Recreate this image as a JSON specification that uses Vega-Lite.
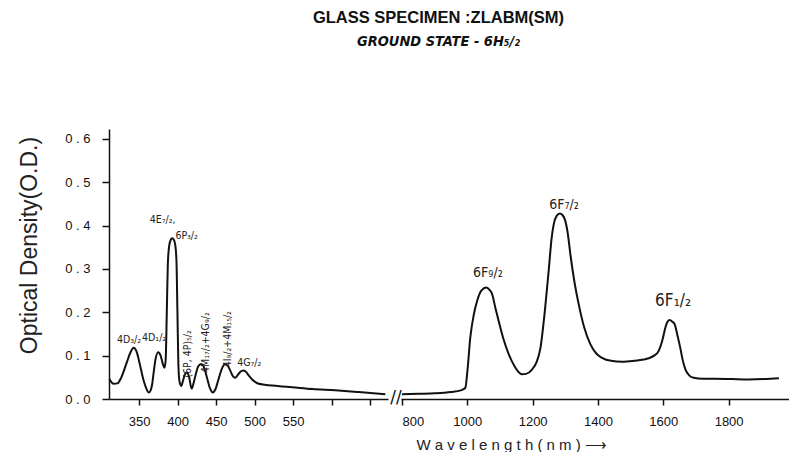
{
  "$schema": "https://vega.github.io/schema/vega-lite/v6.json",
  "background": "white",
  "padding": {"left": 17, "top": 10, "right": 0, "bottom": 0},
  "autosize": {"type": "pad"},
  "bounds": "flush",
  "spacing": 13,
  "config": {
    "view": {"stroke": null},
    "axis": {
      "grid": false,
      "domainColor": "#111",
      "domainWidth": 1.5,
      "tickColor": "#111",
      "tickWidth": 1.5,
      "labelColor": "#111",
      "labelFont": "Liberation Sans",
      "labelFontSize": 13,
      "titleColor": "#222",
      "titleFont": "Liberation Sans",
      "titleFontWeight": "normal"
    }
  },
  "title": {
    "text": "GLASS SPECIMEN :ZLABM(SM)",
    "subtitle": "GROUND STATE - 6H₅/₂",
    "anchor": "middle",
    "dx": 34,
    "offset": 81,
    "font": "Liberation Sans",
    "fontSize": 16.5,
    "fontWeight": "bold",
    "color": "#111",
    "subtitleFont": "Liberation Sans Narrow, DejaVu Sans Condensed, sans-serif",
    "subtitleFontSize": 14.5,
    "subtitleFontStyle": "italic",
    "subtitleFontWeight": "bold",
    "subtitleColor": "#111",
    "subtitlePadding": 8
  },
  "datasets": {
    "left": [
      {"nm": 311.4, "od": 0.046}, {"nm": 317, "od": 0.035}, {"nm": 322, "od": 0.036}, {"nm": 327, "od": 0.05},
      {"nm": 334, "od": 0.084}, {"nm": 339, "od": 0.108}, {"nm": 343, "od": 0.118}, {"nm": 347, "od": 0.108},
      {"nm": 351, "od": 0.08}, {"nm": 356, "od": 0.042}, {"nm": 359.5, "od": 0.024}, {"nm": 362.6, "od": 0.015},
      {"nm": 365, "od": 0.02}, {"nm": 367, "od": 0.034}, {"nm": 369, "od": 0.062}, {"nm": 371, "od": 0.088},
      {"nm": 374.7, "od": 0.108}, {"nm": 378, "od": 0.1}, {"nm": 381, "od": 0.08}, {"nm": 383, "od": 0.072},
      {"nm": 384.5, "od": 0.09}, {"nm": 386, "od": 0.2}, {"nm": 387.3, "od": 0.31}, {"nm": 389, "od": 0.352},
      {"nm": 391, "od": 0.367}, {"nm": 393, "od": 0.371}, {"nm": 395, "od": 0.368}, {"nm": 397, "od": 0.355},
      {"nm": 398.5, "od": 0.32}, {"nm": 399.8, "od": 0.2}, {"nm": 401, "od": 0.08}, {"nm": 402.5, "od": 0.04},
      {"nm": 404.8, "od": 0.03}, {"nm": 407, "od": 0.042}, {"nm": 409.5, "od": 0.057}, {"nm": 412.3, "od": 0.061},
      {"nm": 415, "od": 0.05}, {"nm": 418.2, "od": 0.024}, {"nm": 420.5, "od": 0.035}, {"nm": 424, "od": 0.06},
      {"nm": 427, "od": 0.076}, {"nm": 430.5, "od": 0.081}, {"nm": 434, "od": 0.074}, {"nm": 438, "od": 0.05},
      {"nm": 442, "od": 0.025}, {"nm": 445.5, "od": 0.015}, {"nm": 449, "od": 0.022}, {"nm": 453, "od": 0.045},
      {"nm": 457, "od": 0.068}, {"nm": 461.5, "od": 0.08}, {"nm": 465, "od": 0.077}, {"nm": 468.5, "od": 0.065},
      {"nm": 472, "od": 0.052}, {"nm": 474.7, "od": 0.049}, {"nm": 478, "od": 0.055}, {"nm": 481.5, "od": 0.063},
      {"nm": 485, "od": 0.066}, {"nm": 488, "od": 0.064}, {"nm": 492, "od": 0.055}, {"nm": 496.8, "od": 0.045},
      {"nm": 501, "od": 0.039}, {"nm": 505.5, "od": 0.035}, {"nm": 513, "od": 0.033}, {"nm": 522.7, "od": 0.031},
      {"nm": 535, "od": 0.029}, {"nm": 548.7, "od": 0.027}, {"nm": 575, "od": 0.023}, {"nm": 604.5, "od": 0.02},
      {"nm": 635, "od": 0.016}, {"nm": 669.5, "od": 0.011}
    ],
    "right": [
      {"nm": 800, "od": 0.011}, {"nm": 850, "od": 0.012}, {"nm": 900, "od": 0.013}, {"nm": 950, "od": 0.016},
      {"nm": 980, "od": 0.02}, {"nm": 994, "od": 0.026}, {"nm": 1001, "od": 0.07}, {"nm": 1009, "od": 0.141},
      {"nm": 1020, "od": 0.195}, {"nm": 1030, "od": 0.226}, {"nm": 1043, "od": 0.25}, {"nm": 1058, "od": 0.257},
      {"nm": 1068, "od": 0.252}, {"nm": 1076, "od": 0.242}, {"nm": 1086, "od": 0.21}, {"nm": 1096, "od": 0.18},
      {"nm": 1110, "od": 0.14}, {"nm": 1127, "od": 0.103}, {"nm": 1145, "od": 0.075}, {"nm": 1160, "od": 0.06},
      {"nm": 1167.5, "od": 0.057}, {"nm": 1180, "od": 0.058}, {"nm": 1198, "od": 0.068}, {"nm": 1212, "od": 0.085},
      {"nm": 1224, "od": 0.118}, {"nm": 1237, "od": 0.2}, {"nm": 1249, "od": 0.295}, {"nm": 1258, "od": 0.37},
      {"nm": 1264.5, "od": 0.403}, {"nm": 1274, "od": 0.423}, {"nm": 1283, "od": 0.428}, {"nm": 1292, "od": 0.424},
      {"nm": 1300, "od": 0.411}, {"nm": 1308, "od": 0.38}, {"nm": 1315.5, "od": 0.334}, {"nm": 1328, "od": 0.27},
      {"nm": 1341, "od": 0.219}, {"nm": 1358, "od": 0.165}, {"nm": 1377, "od": 0.126}, {"nm": 1395, "od": 0.105},
      {"nm": 1412.5, "od": 0.095}, {"nm": 1440, "od": 0.088}, {"nm": 1474, "od": 0.086}, {"nm": 1510, "od": 0.088},
      {"nm": 1540, "od": 0.091}, {"nm": 1555.5, "od": 0.094}, {"nm": 1572, "od": 0.1}, {"nm": 1586, "od": 0.111},
      {"nm": 1597, "od": 0.135}, {"nm": 1606.5, "od": 0.165}, {"nm": 1612, "od": 0.177}, {"nm": 1619, "od": 0.182},
      {"nm": 1627, "od": 0.179}, {"nm": 1635, "od": 0.172}, {"nm": 1643, "od": 0.148}, {"nm": 1652, "od": 0.118},
      {"nm": 1660, "od": 0.088}, {"nm": 1668, "od": 0.068}, {"nm": 1680, "od": 0.054}, {"nm": 1693, "od": 0.049},
      {"nm": 1720, "od": 0.047}, {"nm": 1760, "od": 0.047}, {"nm": 1810, "od": 0.046}, {"nm": 1862, "od": 0.045},
      {"nm": 1910, "od": 0.046}, {"nm": 1954, "od": 0.048}
    ],
    "leftLabels": [
      {"nm": 337, "od": 0.136, "label": "4D₃/₂"},
      {"nm": 369.5, "od": 0.14, "label": "4D₁/₂"},
      {"nm": 380.5, "od": 0.412, "label": "4E₇/₂,"},
      {"nm": 411.7, "od": 0.375, "label": "6P₃/₂"},
      {"nm": 493, "od": 0.083, "label": "4G₇/₂"}
    ],
    "leftVertical": [
      {"nm": 413, "od": 0.104, "label": "(6P, 4P)₅/₂"},
      {"nm": 437, "od": 0.13, "label": "4M₁₇/₂+4G₉/₂"},
      {"nm": 465, "od": 0.138, "label": "4I₉/₂+4M₁₅/₂"}
    ],
    "breakMark": [
      {"nm": 673, "od": 0.002, "label": "//"}
    ],
    "rightLabels": [
      {"nm": 1063, "od": 0.29, "label": "6F₉/₂"},
      {"nm": 1296, "od": 0.448, "label": "6F₇/₂"}
    ],
    "rightBig": [
      {"nm": 1630, "od": 0.226, "label": "6F₁/₂"}
    ]
  },
  "hconcat": [
    {
      "width": 279,
      "height": 270,
      "layer": [
        {
          "data": {"name": "left"},
          "mark": {"type": "line", "interpolate": "monotone", "color": "#111", "strokeWidth": 2},
          "encoding": {
            "x": {
              "field": "nm", "type": "quantitative",
              "scale": {"domain": [311, 673], "nice": false, "zero": false},
              "axis": {
                "values": [350, 400, 450, 500, 550, 600, 650],
                "labelExpr": "datum.value <= 550 ? datum.label : ''",
                "title": null,
                "tickSize": 6,
                "labelPadding": 10
              }
            },
            "y": {
              "field": "od", "type": "quantitative",
              "scale": {"domain": [0, 0.623], "nice": false},
              "axis": {
                "values": [0, 0.05, 0.1, 0.15, 0.2, 0.25, 0.3, 0.35, 0.4, 0.45, 0.5, 0.55, 0.6],
                "labelExpr": "round(datum.value * 100) % 10 == 0 ? replace(format(datum.value, '.1f'), '.', ' . ') : ''",
                "title": "Optical Density(O.D.)",
                "titleFontSize": 23,
                "titleAngle": -90,
                "titleX": -73,
                "titleY": 116,
                "titleAlign": "center",
                "titleBaseline": "alphabetic",
                "tickSize": 7,
                "labelPadding": 12
              }
            }
          }
        },
        {
          "data": {"name": "leftLabels"},
          "mark": {"type": "text", "font": "Liberation Sans Narrow, DejaVu Sans Condensed, sans-serif", "fontSize": 10.5, "color": "#222", "baseline": "middle"},
          "encoding": {
            "x": {"field": "nm", "type": "quantitative"},
            "y": {"field": "od", "type": "quantitative"},
            "text": {"field": "label"}
          }
        },
        {
          "data": {"name": "leftVertical"},
          "mark": {"type": "text", "angle": 270, "font": "Liberation Sans Narrow, DejaVu Sans Condensed, sans-serif", "fontSize": 10.5, "color": "#222", "baseline": "middle"},
          "encoding": {
            "x": {"field": "nm", "type": "quantitative"},
            "y": {"field": "od", "type": "quantitative"},
            "text": {"field": "label"}
          }
        },
        {
          "data": {"name": "breakMark"},
          "mark": {"type": "text", "font": "DejaVu Sans", "fontSize": 17, "color": "#111", "baseline": "middle", "dx": 8},
          "encoding": {
            "x": {"field": "nm", "type": "quantitative"},
            "y": {"field": "od", "type": "quantitative"},
            "text": {"field": "label"}
          }
        }
      ]
    },
    {
      "width": 390,
      "height": 270,
      "layer": [
        {
          "data": {"name": "right"},
          "mark": {"type": "line", "interpolate": "monotone", "color": "#111", "strokeWidth": 2},
          "encoding": {
            "x": {
              "field": "nm", "type": "quantitative",
              "scale": {"domain": [797, 1991], "nice": false, "zero": false},
              "axis": {
                "values": [800, 900, 1000, 1100, 1200, 1300, 1400, 1500, 1600, 1700, 1800, 1900],
                "labelExpr": "datum.value % 200 == 0 ? datum.label : ''",
                "format": "d",
                "title": "W a v e l e n g t h  ( n m ) ⟶",
                "titleFontSize": 15,
                "titleX": 15,
                "titleY": 50,
                "titleAlign": "left",
                "titleBaseline": "alphabetic",
                "tickSize": 6,
                "labelPadding": 10
              }
            },
            "y": {
              "field": "od", "type": "quantitative",
              "scale": {"domain": [0, 0.623], "nice": false},
              "axis": null
            }
          }
        },
        {
          "data": {"name": "rightLabels"},
          "mark": {"type": "text", "font": "Liberation Sans Narrow, DejaVu Sans Condensed, sans-serif", "fontSize": 14, "color": "#222", "baseline": "middle"},
          "encoding": {
            "x": {"field": "nm", "type": "quantitative"},
            "y": {"field": "od", "type": "quantitative"},
            "text": {"field": "label"}
          }
        },
        {
          "data": {"name": "rightBig"},
          "mark": {"type": "text", "font": "Liberation Sans Narrow, DejaVu Sans Condensed, sans-serif", "fontSize": 17, "color": "#222", "baseline": "middle"},
          "encoding": {
            "x": {"field": "nm", "type": "quantitative"},
            "y": {"field": "od", "type": "quantitative"},
            "text": {"field": "label"}
          }
        }
      ]
    }
  ]
}
